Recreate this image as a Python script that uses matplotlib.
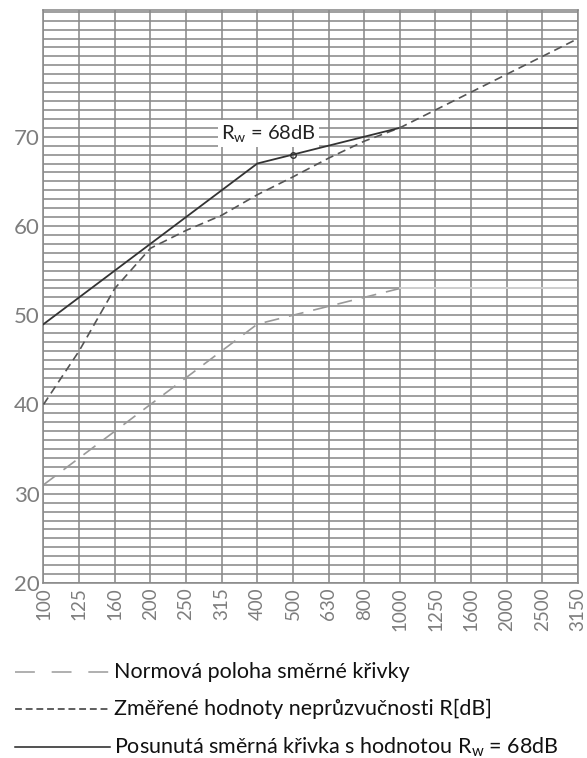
import matplotlib
matplotlib.use("Agg")
import matplotlib.pyplot as plt
from matplotlib.lines import Line2D

plt.rcParams['font.family'] = ['Lato', 'DejaVu Sans']
plt.rcParams['mathtext.default'] = 'regular'

# pásma (Hz)
freqs = ["100", "125", "160", "200", "250", "315", "400", "500", "630",
         "800", "1000", "1250", "1600", "2000", "2500", "3150"]

# normová poloha směrné křivky (čárkovaně do 1000 Hz)
norm_vals = [31, 34, 37, 40, 43, 46, 49, 50, 51, 52, 53]
# změřené hodnoty R [dB]
meas_vals = [40, 46, 53, 57.5, 59.5, 61.2, 63.5, 65.5, 67.6, 69.5, 71,
             73, 75, 77, 79, 81]
# posunutá směrná křivka
shift_vals = [49, 52, 55, 58, 61, 64, 67, 68, 69, 70, 71]
flat_norm = 53
flat_shift = 71
rw_value = 68

fig = plt.figure(figsize=(5.87, 7.58), dpi=100)
ax = fig.add_axes([0.0741, 0.2309, 0.9106, 0.7559])

x = list(range(len(freqs)))
grid_c = '#8a8a8a'

# mřížka
for yy in range(20, 85):
    ax.axhline(yy, color=grid_c, lw=1.15, zorder=0)
for xx in x:
    ax.axvline(xx, color=grid_c, lw=1.15, zorder=0)

n = len(norm_vals)
ax.plot(x[:n], norm_vals, color='#9a9a9a', lw=1.2, dashes=(9, 6), zorder=2)
ax.plot(x[n - 1:], [flat_norm] * (len(x) - n + 1), color='#d8d8d8', lw=1.2, zorder=2)

ax.plot(x, meas_vals, color='#555555', lw=1.2, dashes=(5, 3), zorder=3)

ax.plot(x[:n], shift_vals, color='#333333', lw=1.3, zorder=4)
ax.plot(x[n - 1:], [flat_shift] * (len(x) - n + 1), color='#666666', lw=1.3, zorder=4)

i500 = freqs.index("500")
ax.plot(x[i500], rw_value, marker='o', ms=4, mfc='none', mec='#333333', mew=1.0, zorder=5)
ax.text(x[5] - 0.02, 70.4, r"R$_{w}$ = 68dB", fontsize=14.5, color='#222222',
        va='center', ha='left', zorder=6,
        bbox=dict(boxstyle='square,pad=0.15', facecolor='white', edgecolor='none'))

ax.set_xlim(0, len(freqs) - 1)
ax.set_ylim(20, 84.2)
ax.set_xticks(x)
ax.set_xticklabels(freqs, rotation=90, fontsize=13.5, color='#7d7d7d')
ax.set_yticks([20, 30, 40, 50, 60, 70])
ax.set_yticklabels(['20', '30', '40', '50', '60', '70'], fontsize=16, color='#7d7d7d')
ax.tick_params(length=0, pad=3)
for s in ax.spines.values():
    s.set_color(grid_c)
    s.set_linewidth(1.15)

# legenda pod grafem
leg = [
    (dict(color='#9a9a9a', dashes=(13, 11)), "Normová poloha směrné křivky", 672),
    (dict(color='#333333', dashes=(4.5, 2.5)), "Změřené hodnoty neprůzvučnosti R[dB]", 709),
    (dict(color='#222222'), "Posunutá směrná křivka s hodnotou R$_{w}$ = 68dB", 747),
]
W, H = 587, 758
for style, label, ypx in leg:
    yf = 1 - ypx / H
    fig.add_artist(Line2D([15 / W, 110 / W], [yf, yf], lw=1.1,
                          transform=fig.transFigure, **style))
    fig.text(114 / W, yf, label, fontsize=15.5, color='#111111', va='center', ha='left')

fig.savefig("out.png", dpi=100)
